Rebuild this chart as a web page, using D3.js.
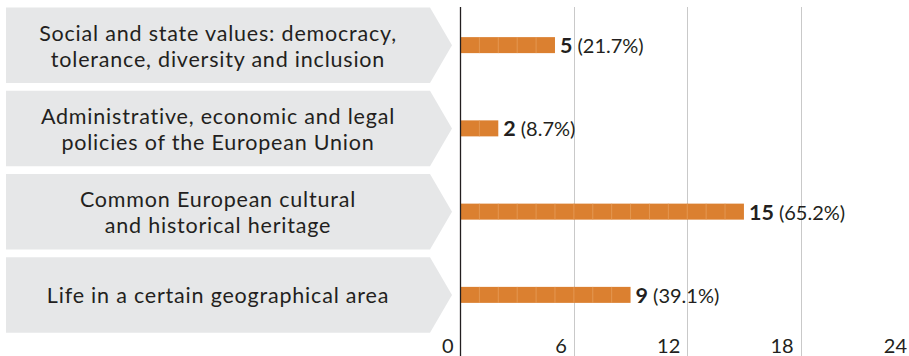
<!DOCTYPE html>
<html>
<head>
<meta charset="utf-8">
<script src="https://cdn.jsdelivr.net/npm/d3@7"></script>
<style>
  html, body { margin: 0; padding: 0; background: #fff; }
  svg { display: block; font-family: Lato, "Open Sans", sans-serif; font-variant-ligatures: none; }
</style>
</head>
<body>
<svg width="909" height="356"></svg>
<script>
var categories = [
  ["Social and state values: democracy,", "tolerance, diversity and inclusion"],
  ["Administrative, economic and legal", "policies of the European Union"],
  ["Common European cultural", "and historical heritage"],
  ["Life in a certain geographical area"]
];
var counts = [5, 2, 15, 9];
var shares = ["21.7%", "8.7%", "65.2%", "39.1%"];
var ticks = [0, 6, 12, 18, 24];

var svg = d3.select('svg');
var width = +svg.attr('width'), height = +svg.attr('height');

var y = d3.scaleBand().domain(d3.range(categories.length)).range([3.5, 336.5]).padding(0);
var x = d3.scaleLinear().domain([0, 24]).range([460.5, 914]);

var boxH = 75.5, barH = 16;

// gridlines
svg.append('g').selectAll('line')
  .data(ticks.slice(1))
  .join('line')
  .attr('x1', d => Math.round(x(d)) + 0.5).attr('x2', d => Math.round(x(d)) + 0.5)
  .attr('y1', 7).attr('y2', height)
  .attr('stroke', '#c9c9c9').attr('stroke-width', 1);

// label arrows
var rows = svg.append('g').selectAll('g')
  .data(categories)
  .join('g')
  .attr('transform', (d, i) => 'translate(0,' + (y(i) + y.bandwidth() / 2) + ')');

rows.append('path')
  .attr('d', 'M6,' + (-boxH / 2) + 'L430,' + (-boxH / 2) + 'L452,0L430,' + (boxH / 2) + 'L6,' + (boxH / 2) + 'Z')
  .attr('fill', '#e6e7e8');

// one text per line so the lines don't share a box
rows.selectAll('text')
  .data(d => d.map(t => ({t: t, n: d.length})))
  .join('text')
  .attr('text-anchor', 'middle')
  .attr('fill', '#231f20')
  .style('font-size', '21.5px')
  .style('letter-spacing', '0.8px')
  .attr('x', 218)
  .attr('y', (d, j) => d.n == 1 ? 8 : -4.5 + j * 26)
  .text(d => d.t);

// bars, one block per unit with a light seam between blocks
var bars = svg.append('g').selectAll('g')
  .data(counts)
  .join('g')
  .attr('transform', (d, i) => 'translate(0,' + (y(i) + y.bandwidth() / 2 - barH / 2) + ')');

bars.append('rect')
  .attr('x', x(0))
  .attr('width', d => x(d) - x(0))
  .attr('height', barH)
  .attr('fill', '#db8030');

bars.selectAll('line')
  .data(d => d3.range(1, d))
  .join('line')
  .attr('x1', k => x(k)).attr('x2', k => x(k))
  .attr('y1', 0).attr('y2', barH)
  .attr('stroke', '#e8a060')
  .attr('stroke-width', 0.7);

// value labels
var vl = bars.append('text')
  .attr('x', d => x(d) + 5)
  .attr('y', barH / 2 + 8)
  .attr('fill', '#231f20')
  .style('font-size', '20px');
vl.append('tspan').attr('font-weight', 'bold').style('font-size', '21.5px').text(d => d);
vl.append('tspan').attr('dx', 5).text((d, i) => '(' + shares[i] + ')');

// axis line at zero
svg.append('line')
  .attr('x1', x(0)).attr('x2', x(0))
  .attr('y1', 7).attr('y2', height)
  .attr('stroke', '#231f20').attr('stroke-width', 1.3);

// tick labels
svg.append('g').selectAll('text')
  .data(ticks)
  .join('text')
  .attr('x', d => x(d) - 7)
  .attr('y', 353)
  .attr('text-anchor', 'end')
  .attr('fill', '#231f20')
  .style('font-size', '20px')
  .text(d => d);
</script>
</body>
</html>
